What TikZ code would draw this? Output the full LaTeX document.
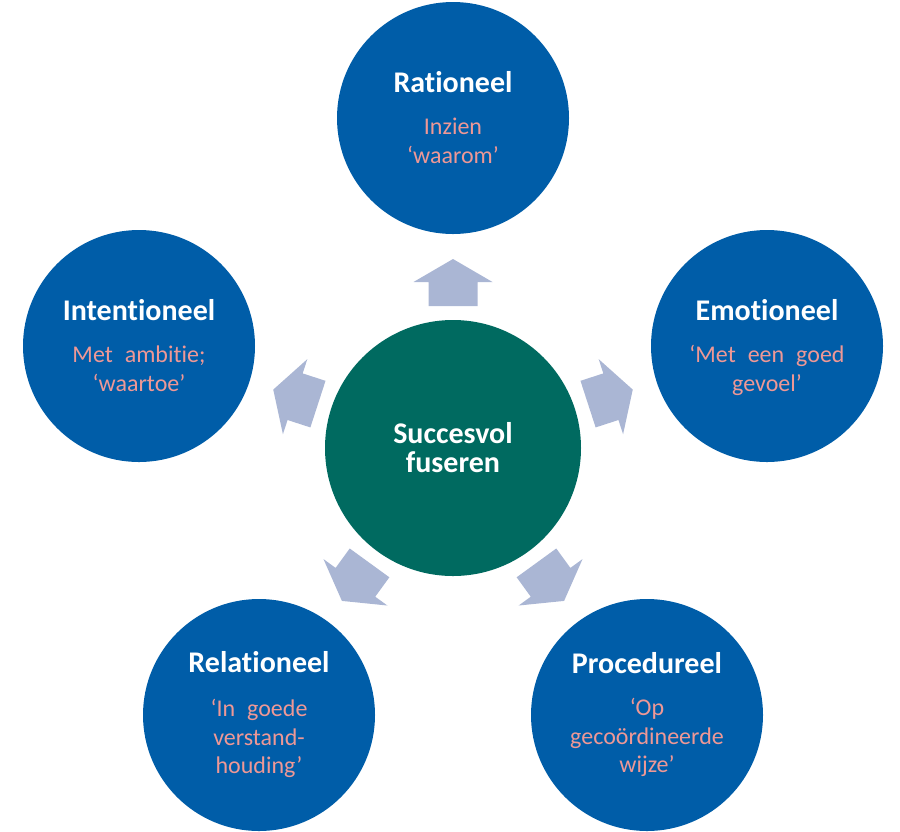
\documentclass[tikz,border=0pt]{standalone}
\usepackage{fontspec}
\setmainfont{Carlito}[Ligatures={NoCommon}, WordSpace=2.2]
\definecolor{cblue}{RGB}{0,93,168}
\definecolor{cgreen}{RGB}{0,106,96}
\definecolor{carrow}{RGB}{170,182,212}
\definecolor{cpink}{RGB}{238,152,150}
\tikzset{
  outer/.style={circle, fill=cblue, minimum size=232pt, inner sep=0pt},
  inner/.style={circle, fill=cgreen, minimum size=256pt, inner sep=0pt},
  ttl/.style={anchor=base, text=white, inner sep=0pt, font=\bfseries\fontsize{30}{36}\selectfont},
  bdy/.style={anchor=base, text=cpink, inner sep=0pt, font=\fontsize{24}{29}\selectfont},
  blockarrow/.style={fill=carrow}
}
\begin{document}
\begin{tikzpicture}[x=1pt,y=-1pt]
\useasboundingbox (0,0) rectangle (900,831);
% circles
\node[inner] (ctr) at (453,448) {};
\node[outer] (rat) at (453,118) {};
\node[outer] (emo) at (767,346) {};
\node[outer] (int) at (139,346) {};
\node[outer] (pro) at (647,715) {};
\node[outer] (rel) at (259,715) {};
% arrows
\foreach \a in {0,72,144,216,288}{
  \fill[blockarrow, rotate around={\a:(ctr.center)}]
    (428.5,306) -- (477.5,306) -- (477.5,282) -- (492.5,282) -- (453,259)
    -- (413.5,282) -- (428.5,282) -- cycle;
}
% center text
\node[ttl] (c1) at (453,443) {Succesvol};
\node[ttl] (c2) at (453,472) {fuseren};
% Rationeel
\node[ttl] (ratT) at (453,92) {Rationeel};
\node[bdy] (ratA) at (453,134) {Inzien};
\node[bdy] (ratB) at (453,163) {‘waarom’};
% Emotioneel
\node[ttl] (emoT) at (767,320) {Emotioneel};
\node[bdy] (emoA) at (767,362) {‘Met een goed};
\node[bdy] (emoB) at (767,391) {gevoel’};
% Intentioneel
\node[ttl] (intT) at (139,320) {Intentioneel};
\node[bdy] (intA) at (139,362) {Met ambitie;};
\node[bdy] (intB) at (139,391) {‘waartoe’};
% Relationeel
\node[ttl] (relT) at (259,672) {Relationeel};
\node[bdy] (relA) at (259,716) {‘In goede};
\node[bdy] (relB) at (259,745) {verstand-};
\node[bdy] (relC) at (259,773) {houding’};
% Procedureel
\node[ttl] (proT) at (647,673) {Procedureel};
\node[bdy] (proA) at (647,715) {‘Op};
\node[bdy] (proB) at (647,744) {gecoördineerde};
\node[bdy] (proC) at (647,772) {wijze’};
\end{tikzpicture}
\end{document}
